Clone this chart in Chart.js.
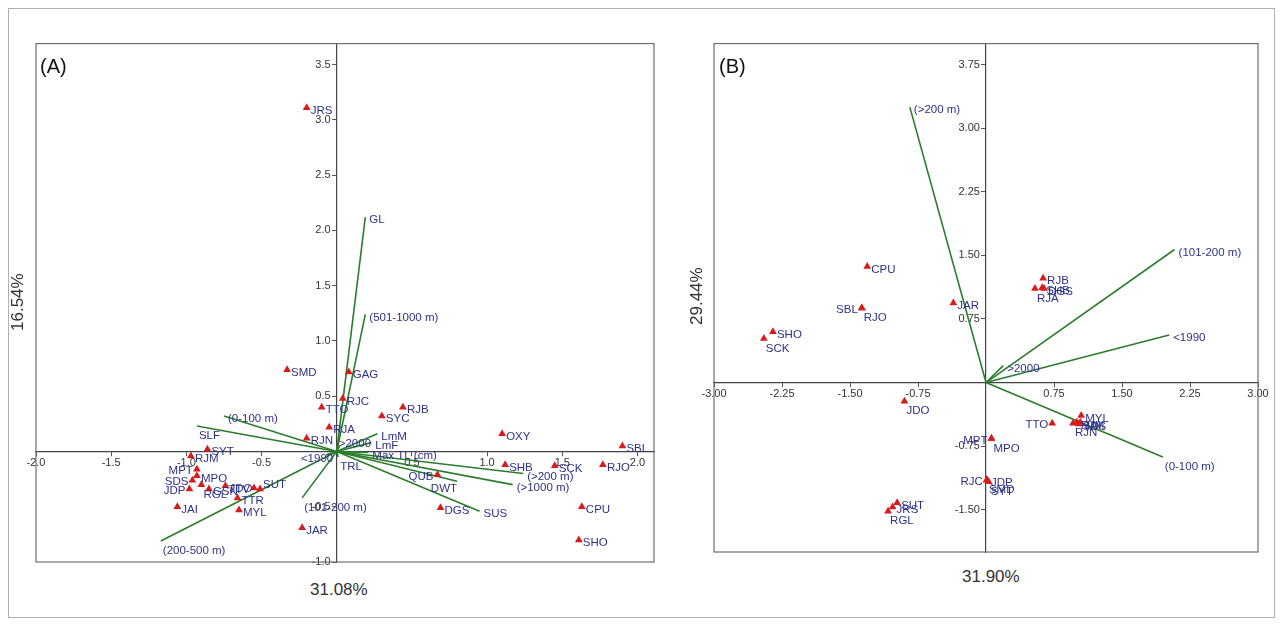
<!DOCTYPE html>
<html><head><meta charset="utf-8">
<script src="https://cdn.jsdelivr.net/npm/chart.js@4.4.0/dist/chart.umd.min.js"></script>
<style>
body{margin:0;background:#fff;width:1282px;height:625px;position:relative;overflow:hidden;font-family:"Liberation Sans",Arial,sans-serif;}
#frame{position:absolute;left:8px;top:8px;width:1265px;height:608px;border:1px solid #b0b0b0;}
canvas{position:absolute;}
.t{position:absolute;color:#333;font-size:17px;white-space:nowrap;}
.p{position:absolute;color:#111;font-size:20px;}
</style></head><body>
<div id="frame"></div>
<canvas id="ca" width="646" height="534" style="left:22px;top:36px"></canvas>
<canvas id="cb" width="572" height="524" style="left:700px;top:36px"></canvas>
<div class="p" style="left:40px;top:55px">(A)</div>
<div class="p" style="left:719px;top:55px">(B)</div>
<div class="t" style="left:-10px;top:293px;transform:rotate(-90deg);width:56px;text-align:center">16.54%</div>
<div class="t" style="left:310px;top:580px">31.08%</div>
<div class="t" style="left:669px;top:287px;transform:rotate(-90deg);width:56px;text-align:center">29.44%</div>
<div class="t" style="left:962px;top:567px">31.90%</div>
<script>
// ---------- Panel A data ----------
const speciesA = ['JRS','SMD','TTO','RJC','GAG','RJA','RJN','RJB','SYC','OXY','SBL','SHB','SCK','RJO','QUB','DGS','CPU','SHO','JAR','SYT','RJM','MPT','MPO','SDS','RGL','JDP','GSN','JDO','TTR','TTV','SUT','MYL','JAI'];
const speciesAx1A = [-0.20,-0.33,-0.10,0.04,0.08,-0.05,-0.20,0.44,0.30,1.10,1.90,1.12,1.45,1.77,0.67,0.69,1.63,1.61,-0.23,-0.86,-0.97,-0.93,-0.93,-0.96,-0.90,-0.98,-0.85,-0.74,-0.66,-0.55,-0.51,-0.65,-1.06];
const speciesAx2A = [3.11,0.74,0.40,0.48,0.72,0.22,0.12,0.40,0.32,0.16,0.05,-0.12,-0.13,-0.12,-0.21,-0.51,-0.50,-0.80,-0.69,0.02,-0.04,-0.16,-0.22,-0.26,-0.30,-0.34,-0.34,-0.31,-0.42,-0.33,-0.34,-0.53,-0.50];
const variablesA = ['GL','(501-1000 m)','(0-100 m)','SLF','<1990','>2000','LmM','LmF','Max TL (cm)','TRL','(>200 m)','(>1000 m)','DWT','SUS','(200-500 m)','(101-200 m)'];
const varAx1A = [0.19,0.19,-0.75,-0.93,-0.07,0.02,0.27,0.23,0.21,0.01,1.24,1.17,0.80,0.95,-1.17,-0.23];
const varAx2A = [2.12,1.24,0.32,0.23,-0.03,0.05,0.16,0.08,-0.01,-0.05,-0.20,-0.30,-0.27,-0.54,-0.81,-0.42];
const xTicksA = ['-2.0','-1.5','-1.0','-0.5','0.5','1.0','1.5','2.0'];
const yTicksA = ['-1.0','-0.5','0.5','1.0','1.5','2.0','2.5','3.0','3.5'];

// ---------- Panel B data ----------
const speciesB = ['CPU','SBL','RJO','JAR','SHO','SCK','JDO','MPT','MPO','RJC','JDP','SMD','SYT','SUT','JRS','RGL','TTO','MYL','RJN','RJM','SDS','JAI','RJB','RJA','SHB','DGS'];
const speciesAx1B = [-1.31,-1.37,-1.37,-0.36,-2.35,-2.45,-0.90,0.06,0.06,0.01,0.01,0.01,0.03,-0.98,-1.03,-1.08,0.73,1.05,0.96,1.00,1.02,1.04,0.63,0.54,0.62,0.64];
const speciesAx2B = [1.37,0.88,0.88,0.94,0.60,0.52,-0.22,-0.66,-0.66,-1.15,-1.15,-1.15,-1.17,-1.42,-1.47,-1.52,-0.48,-0.39,-0.48,-0.47,-0.49,-0.47,1.23,1.11,1.12,1.11];
const variablesB = ['(>200 m)','(101-200 m)','<1990','>2000','(0-100 m)'];
const varAx1B = [-0.84,2.08,2.02,0.19,1.95];
const varAx2B = [3.25,1.57,0.56,0.20,-0.88];
const xTicksB = ['-3.00','-2.25','-1.50','-0.75','0.75','1.50','2.25','3.00'];
const yTicksB = ['-1.50','-0.75','0.75','1.50','2.25','3.00','3.75'];

// ---------- label placement (style) ----------
const sideA = {MPT:'l',SDS:'l',JDP:'l',TTV:'l',QUB:'l',RGL:'rb',SLF:'rb','<1990':[7,4,'right'],'>2000':[-1,-2,'left'],TRL:'rb',DWT:'lb','(200-500 m)':'rb','(101-200 m)':'rb',SUT:'rt'};
const sideB = {SBL:'l',RJO:'rb',SCK:'rb',JDO:'rb',MPT:'l',MPO:'rb',RJC:'l',SMD:'rb',SYT:'rb',JRS:'r',RGL:'rb',TTO:'l',RJN:'rb',RJA:'rb','(0-100 m)':'rb'};

const FONT = '"Liberation Sans", Arial, sans-serif';
const LABEL_COLOR = '#2e3189';
const GREEN = '#2b7d2b';
const RED = '#d81c1c';

const labelPlugin = {
  id:'ptlabels',
  afterDatasetsDraw(chart){
    const ctx = chart.ctx;
    const sides = chart.options.plugins.ptlabels.sides;
    chart.data.datasets.forEach((ds,i)=>{
      if(!ds.ptLabels) return;
      const meta = chart.getDatasetMeta(i);
      ctx.save();
      ctx.font = '11.5px ' + FONT;
      ctx.fillStyle = LABEL_COLOR;
      ctx.textBaseline = 'middle';
      meta.data.forEach((el,j)=>{
        const lab = ds.ptLabels[j];
        if(!lab) return;
        let s = sides[lab] || 'r';
        let dx=4, dy=3, al='left';
        if(Array.isArray(s)){dx=s[0];dy=s[1];al=s[2];}
        else if(s==='rb'){dx=2;dy=10;}
        else if(s==='rt'){dx=3;dy=-4;}
        else if(s==='l'){dx=-4;dy=2;al='right';}
        else if(s==='lb'){dx=0;dy=8;al='right';}
        ctx.textAlign = al;
        ctx.fillText(lab, el.x+dx, el.y+dy);
      });
      ctx.restore();
    });
  }
};
const framePlugin = {
  id:'frame',
  beforeDatasetsDraw(chart){
    const a = chart.chartArea, ctx = chart.ctx;
    ctx.save();
    ctx.strokeStyle = '#6e6e6e'; ctx.lineWidth = 1.2;
    ctx.strokeRect(a.left, a.top, a.right-a.left, a.bottom-a.top);
    ctx.restore();
  }
};

function build(id, sp, s1, s2, vars, v1, v2, xt, yt, xr, yr, sides){
  const datasets = [{
    type:'scatter',
    data: sp.map((n,i)=>({x:s1[i], y:s2[i]})),
    ptLabels: sp,
    pointStyle:'triangle', pointRadius:4.5, pointHoverRadius:4.5,
    backgroundColor:RED, borderColor:RED, borderWidth:0
  }];
  vars.forEach((n,i)=>{
    datasets.push({
      type:'line',
      data:[{x:0,y:0},{x:v1[i],y:v2[i]}],
      ptLabels:[null,n],
      borderColor:GREEN, borderWidth:1.6, pointRadius:0, fill:false, tension:0
    });
  });
  const tickFont = {family:FONT, size:11};
  const mkTicks = (arr)=> (scale)=>{ scale.ticks = arr.map(s=>({value:parseFloat(s)})); };
  const fmt = (arr, pad)=> (v)=>{ const f = arr.find(s=>Math.abs(parseFloat(s)-v)<1e-9); return f===undefined?'':f+pad; };
  return new Chart(document.getElementById(id), {
    type:'scatter',
    data:{datasets},
    plugins:[framePlugin,labelPlugin],
    options:{
      responsive:false, animation:false, clip:false,
      layout:{padding:{left:14,right:14,top:6,bottom:8}},
      plugins:{legend:{display:false}, tooltip:{enabled:false}, ptlabels:{sides}},
      scales:{
        x:{type:'linear', min:xr[0], max:xr[1], position:{y:0},
           afterBuildTicks:mkTicks(xt),
           ticks:{callback:fmt(xt,''), font:tickFont, color:'#333', padding:1, maxRotation:0, autoSkip:false},
           grid:{drawOnChartArea:false, drawTicks:true, tickLength:4, color:'#555'},
           border:{display:true, color:'#444', width:1.2}},
        y:{type:'linear', min:yr[0], max:yr[1], position:{x:0},
           afterBuildTicks:mkTicks(yt),
           ticks:{callback:fmt(yt,'  '), font:tickFont, color:'#333', padding:1, autoSkip:false},
           grid:{drawOnChartArea:false, drawTicks:true, tickLength:4, color:'#555'},
           border:{display:true, color:'#444', width:1.2}}
      }
    }
  });
}

build('ca', speciesA, speciesAx1A, speciesAx2A, variablesA, varAx1A, varAx2A, xTicksA, yTicksA, [-2.0,2.11], [-1.0,3.69], sideA);
build('cb', speciesB, speciesAx1B, speciesAx2B, variablesB, varAx1B, varAx2B, xTicksB, yTicksB, [-3.0,3.0], [-2.0,4.0], sideB);
</script>
</body></html>
